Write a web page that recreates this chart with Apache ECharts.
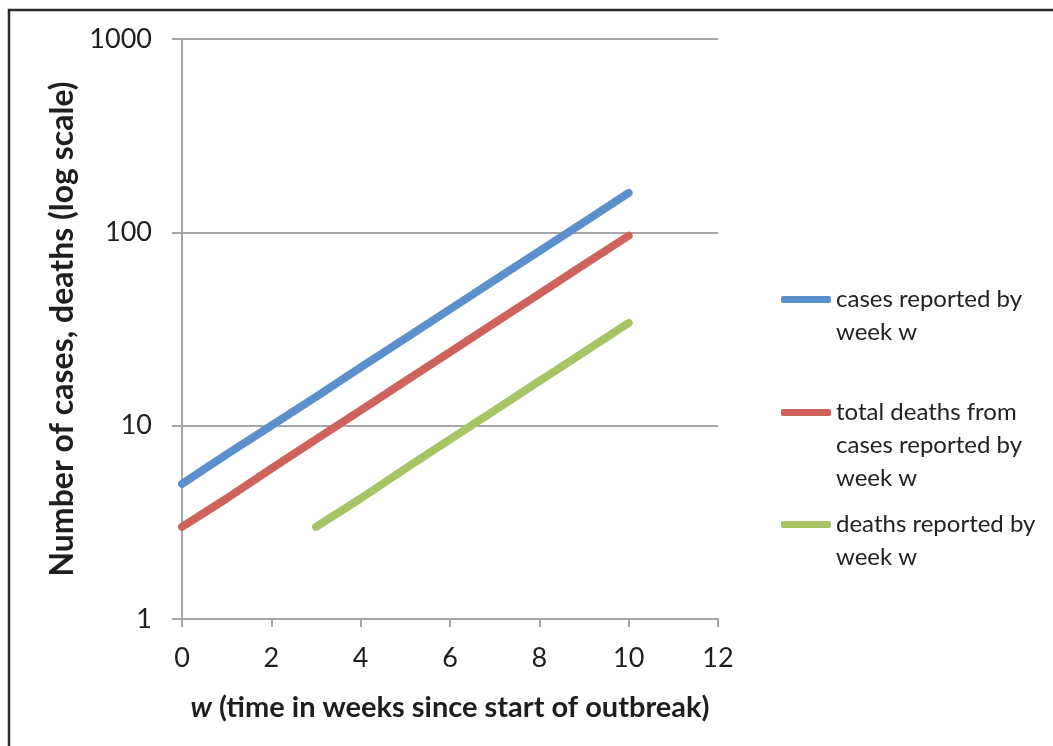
<!DOCTYPE html>
<html><head><meta charset="utf-8">
<script src="https://cdn.jsdelivr.net/npm/echarts@6/dist/echarts.min.js"></script>
<style>html,body{margin:0;padding:0;background:#fff}#c{width:1053px;height:746px}</style>
</head><body><div id="c"></div>
<script>
const weeks = [0,1,2,3,4,5,6,7,8,9,10];
const casesReported = [5,7.1,10,14.1,20,28.3,40,56.6,80,113,160];
const totalDeaths = [3,4.2,6,8.5,12,17,24,34,48,68,96];
const deathWeeks = [3,4,5,6,7,8,9,10];
const deathsReported = [3,4.2,6,8.5,12,17,24,34];
const seriesNames = ['cases reported by\nweek w','total deaths from\ncases reported by\nweek w','deaths reported by\nweek w'];
const xTicks = {min:0,max:12,interval:2};
const colors = ['#5b90cc','#d0625d','#a7c565'];
const FONT = 'Lato, "Open Sans", sans-serif';

const chart = echarts.init(document.getElementById('c'));
const lh = 33;
function legendFor(i, top){
  return {
    data:[seriesNames[i]], left:781, top:top, padding:0, orient:'vertical',
    icon:'roundRect', itemWidth:50, itemHeight:7, selectedMode:false,
    formatter:function(n){ const k = n.split('\n').length - 1; return '\n'.repeat(k) + n; },
    textStyle:{fontFamily:FONT, fontSize:24, color:'#222', lineHeight:lh}
  };
}
chart.setOption({
  backgroundColor:'#fff',
  animation:false,
  color:colors,
  grid:{left:182,right:335,top:39,bottom:127},
  graphic:[{type:'rect',shape:{x:9,y:10,width:1200,height:900},style:{fill:'none',stroke:'#2b2b2b',lineWidth:2.5},silent:true}],
  legend:[legendFor(0,250),legendFor(1,330),legendFor(2,475)],
  xAxis:{type:'value',min:xTicks.min,max:xTicks.max,interval:xTicks.interval,
    axisLine:{onZero:false,lineStyle:{color:'#a6a6a6',width:2}},
    axisTick:{show:true,length:8,lineStyle:{color:'#a6a6a6',width:2}},
    splitLine:{show:false},
    axisLabel:{fontFamily:FONT,fontSize:27,color:'#1e1e1e',margin:26},
    name:'{i|w} (time in weeks since start of outbreak)',nameLocation:'middle',nameGap:74,
    nameTextStyle:{fontFamily:FONT,fontSize:29,fontWeight:'bold',color:'#1e1e1e',
      rich:{i:{fontFamily:FONT,fontSize:29,fontWeight:'bold',fontStyle:'italic',color:'#1e1e1e'}}}
  },
  yAxis:{type:'log',logBase:10,min:1,max:1000,
    axisLine:{show:true,lineStyle:{color:'#a6a6a6',width:2}},
    axisTick:{show:true,length:10,lineStyle:{color:'#a6a6a6',width:2}},
    splitLine:{show:true,lineStyle:{color:'#a6a6a6',width:2}},
    minorTick:{show:false},
    axisLabel:{fontFamily:FONT,fontSize:27,color:'#1e1e1e',margin:30,formatter:function(v){return String(v);}},
    name:'Number of cases, deaths (log scale)',nameLocation:'middle',nameGap:101,nameRotate:90,
    nameTextStyle:{fontFamily:FONT,fontSize:32,fontWeight:'bold',color:'#1e1e1e'}
  },
  series:[
    {name:seriesNames[0],type:'line',showSymbol:false,data:weeks.map((w,k)=>[w,casesReported[k]]),lineStyle:{width:8,cap:'round'}},
    {name:seriesNames[1],type:'line',showSymbol:false,data:weeks.map((w,k)=>[w,totalDeaths[k]]),lineStyle:{width:8,cap:'round'}},
    {name:seriesNames[2],type:'line',showSymbol:false,data:deathWeeks.map((w,k)=>[w,deathsReported[k]]),lineStyle:{width:8,cap:'round'}}
  ]
});
</script></body></html>
